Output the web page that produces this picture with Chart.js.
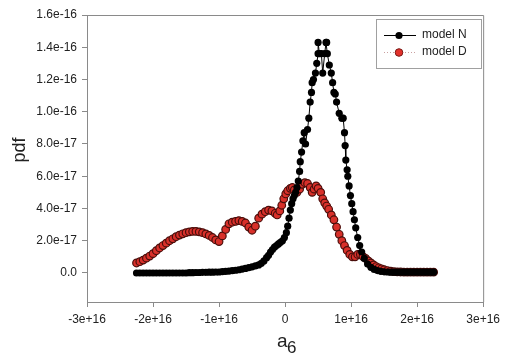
<!DOCTYPE html>
<html>
<head>
<meta charset="utf-8">
<script src="https://cdn.jsdelivr.net/npm/chart.js@4/dist/chart.umd.min.js"></script>
<style>
  body { margin: 0; background: #fff; }
  canvas { display: block; }
</style>
</head>
<body>
<canvas id="pdfChart" width="505" height="356"></canvas>
<script>
// a6 values in units of 1e16, pdf values in units of 1e-17
const A6_UNIT = 1e16;
const PDF_UNIT = 1e-17;

const modelNX = [-2.25, -2.2, -2.15, -2.1, -2.05, -2.0, -1.95, -1.9, -1.85, -1.8, -1.75, -1.7, -1.65, -1.6, -1.55,
  -1.5, -1.45, -1.4, -1.35, -1.3, -1.25, -1.2, -1.15, -1.1, -1.05, -1.0, -0.95, -0.9, -0.85, -0.8, -0.75, -0.7,
  -0.65, -0.6, -0.55, -0.5, -0.45, -0.4, -0.36, -0.32, -0.28, -0.25, -0.22, -0.19, -0.16, -0.13, -0.1, -0.07,
  -0.04, -0.01, 0.02, 0.04, 0.06, 0.08, 0.1, 0.12, 0.14, 0.16, 0.18, 0.2, 0.22, 0.23, 0.25, 0.27, 0.29, 0.31,
  0.34, 0.36, 0.38, 0.4, 0.41, 0.43, 0.46, 0.48, 0.5, 0.5, 0.52, 0.55, 0.57, 0.6, 0.62, 0.63, 0.64, 0.67, 0.7,
  0.72, 0.74, 0.76, 0.78, 0.82, 0.86, 0.88, 0.9, 0.91, 0.92, 0.94, 0.95, 0.97, 0.99, 1.01, 1.03, 1.05, 1.07,
  1.1, 1.13, 1.16, 1.2, 1.25, 1.3, 1.35, 1.4, 1.45, 1.5, 1.55, 1.6, 1.65, 1.7, 1.75, 1.8, 1.85, 1.9, 1.95, 2.0,
  2.05, 2.1, 2.15, 2.2, 2.25];
const modelNY = [0, 0, 0, 0, 0, 0, 0, 0, 0, 0, 0, 0, 0, 0, 0,
  0, 0.02, 0.02, 0.03, 0.03, 0.04, 0.04, 0.05, 0.05, 0.06, 0.06, 0.08, 0.1, 0.12, 0.14, 0.17, 0.2,
  0.24, 0.28, 0.33, 0.38, 0.44, 0.5, 0.6, 0.75, 0.95, 1.1, 1.3, 1.45, 1.6, 1.7, 1.8, 1.9,
  2.0, 2.2, 2.5, 2.9, 3.4, 3.9, 4.3, 4.6, 4.8, 5.0, 5.3, 5.7, 6.3, 6.9, 7.5, 8.2, 8.7, 8.0,
  8.9, 9.6, 10.6, 11.2, 11.8, 12.0, 12.4, 13.0, 13.6, 14.3, 13.6, 13.6, 12.4, 13.6, 14.3, 14.3, 13.6, 12.9, 12.4,
  11.8, 11.2, 11.1, 10.6, 9.9, 9.6, 9.6, 8.7, 7.9, 7.0, 6.4, 6.0, 5.4, 4.8, 4.3, 3.8, 3.3, 2.8,
  2.2, 1.7, 1.3, 0.9, 0.55, 0.35, 0.22, 0.15, 0.1, 0.07, 0.06, 0.05, 0.05, 0.05, 0.05, 0.05, 0.05, 0.05, 0.05, 0.05,
  0.05, 0.05, 0.05, 0.05, 0.05];

const modelDX = [-2.25, -2.2, -2.15, -2.1, -2.05, -2.0, -1.95, -1.9, -1.85, -1.8, -1.75, -1.7, -1.65, -1.6, -1.55,
  -1.5, -1.45, -1.4, -1.35, -1.3, -1.25, -1.2, -1.15, -1.1, -1.05, -1.0, -0.95, -0.9, -0.85, -0.8, -0.75, -0.7,
  -0.65, -0.6, -0.55, -0.5, -0.45, -0.4, -0.35, -0.3, -0.25, -0.2, -0.15, -0.12, -0.08, -0.05, -0.02, 0.01,
  0.04, 0.08, 0.11, 0.14, 0.18, 0.22, 0.26, 0.3, 0.34, 0.38, 0.41, 0.44, 0.47, 0.5, 0.54, 0.57, 0.6, 0.63,
  0.66, 0.7, 0.74, 0.78, 0.82, 0.86, 0.9, 0.94, 0.98, 1.02, 1.06, 1.1, 1.14, 1.18, 1.22, 1.26, 1.3, 1.34,
  1.38, 1.42, 1.46, 1.5, 1.55, 1.6, 1.65, 1.7, 1.75, 1.8, 1.85, 1.9, 1.95, 2.0, 2.05, 2.1, 2.15, 2.2, 2.25];
const modelDY = [0.62, 0.7, 0.8, 0.92, 1.05, 1.2, 1.38, 1.55, 1.7, 1.85, 2.0, 2.12, 2.25, 2.35, 2.43,
  2.5, 2.55, 2.58, 2.58, 2.55, 2.5, 2.42, 2.33, 2.2, 2.05, 1.95, 2.3, 2.7, 3.05, 3.15, 3.2, 3.25,
  3.2, 3.1, 2.85, 2.65, 2.9, 3.4, 3.65, 3.8, 3.9, 3.85, 3.7, 3.6, 3.85, 4.2, 4.6, 4.9,
  5.1, 5.25, 5.3, 5.15, 5.0, 5.2, 5.5, 5.6, 5.55, 5.3, 5.0, 5.2, 5.4, 5.25, 5.0, 4.6, 4.35, 4.15,
  3.95, 3.6, 3.3, 2.85, 2.4, 2.0, 1.7, 1.4, 1.15, 1.0, 1.0, 1.15, 1.15, 1.02, 0.9, 0.75, 0.62, 0.5,
  0.4, 0.32, 0.26, 0.2, 0.15, 0.11, 0.08, 0.07, 0.06, 0.05, 0.05, 0.05, 0.05, 0.05, 0.05, 0.05, 0.05, 0.05, 0.05];

const xTicks = [-3e16, -2e16, -1e16, 0, 1e16, 2e16, 3e16];
const yTicks = [0, 2e-17, 4e-17, 6e-17, 8e-17, 1.0e-16, 1.2e-16, 1.4e-16, 1.6e-16];

const FONT = '"Liberation Sans", Arial, sans-serif';
const FRAME = '#8a8a8a';
const TEXT = '#222';

function toPoints(xs, ys) {
  return xs.map((x, i) => ({ x: x * A6_UNIT, y: ys[i] * PDF_UNIT }));
}

/**
 * Extra drawing: top/right frame, legend box and the axis titles
 */
const decorations = {
  id: 'decorations',
  afterDraw(chart) {
    const ctx = chart.ctx;
    const area = chart.chartArea;
    ctx.save();

    // top and right frame lines
    ctx.strokeStyle = FRAME;
    ctx.lineWidth = 1;
    ctx.beginPath();
    ctx.moveTo(area.left, area.top + 0.5);
    ctx.lineTo(area.right + 0.5, area.top + 0.5);
    ctx.lineTo(area.right + 0.5, area.bottom);
    ctx.stroke();

    // legend
    ctx.fillStyle = '#fff';
    ctx.fillRect(376, 19, 105, 49);
    ctx.strokeStyle = '#a0a0a0';
    ctx.strokeRect(376.5, 19.5, 105, 49);

    ctx.strokeStyle = '#000';
    ctx.lineWidth = 1;
    ctx.beginPath();
    ctx.moveTo(384, 35.5);
    ctx.lineTo(416, 35.5);
    ctx.stroke();
    ctx.fillStyle = '#000';
    ctx.beginPath();
    ctx.arc(399, 35.5, 3.6, 0, Math.PI * 2);
    ctx.fill();

    ctx.strokeStyle = '#c9a0a0';
    ctx.setLineDash([1, 2]);
    ctx.beginPath();
    ctx.moveTo(384, 52.5);
    ctx.lineTo(416, 52.5);
    ctx.stroke();
    ctx.setLineDash([]);
    ctx.fillStyle = '#e3312b';
    ctx.strokeStyle = '#7a1a16';
    ctx.beginPath();
    ctx.arc(399, 52.5, 3.8, 0, Math.PI * 2);
    ctx.fill();
    ctx.stroke();

    ctx.fillStyle = TEXT;
    ctx.font = '12px ' + FONT;
    ctx.textAlign = 'left';
    ctx.textBaseline = 'middle';
    ctx.fillText('model N', 422, 35);
    ctx.fillText('model D', 422, 52);

    // y title
    ctx.save();
    ctx.translate(20, 150);
    ctx.rotate(-Math.PI / 2);
    ctx.textAlign = 'center';
    ctx.textBaseline = 'middle';
    ctx.font = '18px ' + FONT;
    ctx.fillText('pdf', 0, 0);
    ctx.restore();

    // x title with subscript
    ctx.textBaseline = 'alphabetic';
    ctx.textAlign = 'left';
    ctx.font = '19px ' + FONT;
    ctx.fillText('a', 277, 347);
    ctx.font = '17px ' + FONT;
    ctx.fillText('6', 287, 353);

    ctx.restore();
  }
};

new Chart(document.getElementById('pdfChart'), {
  type: 'scatter',
  data: {
    datasets: [{
      label: 'model N',
      data: toPoints(modelNX, modelNY),
      showLine: true,
      borderColor: '#000',
      borderWidth: 1,
      backgroundColor: '#000',
      pointRadius: 3.6,
      pointBorderWidth: 0,
      pointBorderColor: '#000'
    }, {
      label: 'model D',
      data: toPoints(modelDX, modelDY),
      showLine: true,
      borderColor: '#7a1a16',
      borderWidth: 0.8,
      borderDash: [1, 2],
      backgroundColor: '#d8302a',
      pointRadius: 3.8,
      pointBorderWidth: 1.2,
      pointBorderColor: '#4a0e0b'
    }]
  },
  options: {
    responsive: false,
    animation: false,
    devicePixelRatio: 1,
    layout: { padding: { top: 15, right: 20, left: 0, bottom: 0 } },
    plugins: {
      legend: { display: false },
      tooltip: { enabled: false }
    },
    scales: {
      x: {
        type: 'linear',
        min: -3e16,
        max: 3e16,
        afterBuildTicks: axis => { axis.ticks = xTicks.map(v => ({ value: v })); },
        afterFit: scale => { scale.height = 54; },
        ticks: {
          color: TEXT,
          font: { family: FONT, size: 12 },
          padding: 5,
          maxRotation: 0,
          callback: v => v === 0 ? '0' : v.toExponential(0)
        },
        grid: { display: true, drawOnChartArea: false, drawTicks: true, tickLength: 5, color: FRAME },
        border: { display: true, color: FRAME }
      },
      y: {
        type: 'linear',
        min: -1.8e-17,
        max: 1.6e-16,
        afterBuildTicks: axis => { axis.ticks = yTicks.map(v => ({ value: v })); },
        afterFit: scale => { scale.width = 87; },
        ticks: {
          color: TEXT,
          font: { family: FONT, size: 12 },
          padding: 5,
          callback: v => v === 0 ? '0.0' : v.toExponential(1)
        },
        grid: { display: true, drawOnChartArea: false, drawTicks: true, tickLength: 5, color: FRAME },
        border: { display: true, color: FRAME }
      }
    }
  },
  plugins: [decorations]
});
</script>
</body>
</html>
